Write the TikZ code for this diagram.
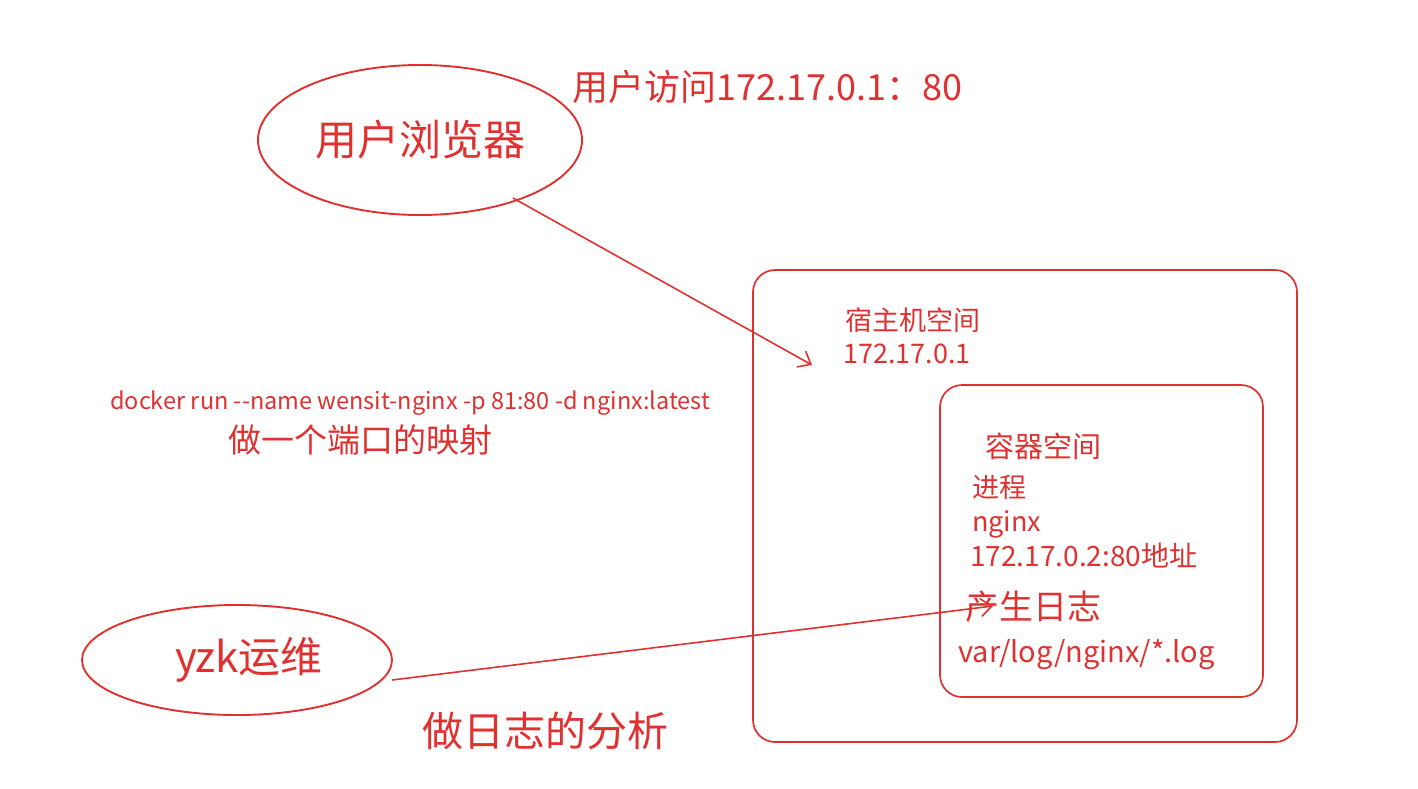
\documentclass[tikz,border=0pt]{standalone}
\usepackage{fontspec}
\newfontfamily\cjk{Noto Sans CJK SC}
\usetikzlibrary{arrows.meta,shapes.geometric}
\definecolor{exred}{HTML}{E03131}
\newcommand\fsz[1]{\cjk\fontsize{#1}{#1}\selectfont}
\tikzset{
  >={Straight Barb[length=11pt,width=18pt]},
  % former
  oval/.style={ellipse,draw=exred,line width=1.9pt,inner sep=0pt,text=exred},
  space/.style={draw=exred,line width=1.7pt,rounded corners=22pt,inner sep=0pt},
  % texter och pilar
  lbl/.style={anchor=west,inner sep=0pt,text=exred},
  link/.style={->,draw=exred,line width=1.6pt},
}

\begin{document}
\begin{tikzpicture}[x=1pt,y=-1pt]
  \useasboundingbox (0,0) rectangle (1418,788);
  \node[oval,minimum width=324pt,minimum height=150pt,font=\fsz{42}] (browser) at (420,140) {用户浏览器};
  \node[oval,minimum width=310pt,minimum height=110pt,font=\fsz{42}] (ops) at (237,660) {\hspace*{24pt}yzk运维};
  \node[space,minimum width=544pt,minimum height=472pt] (host) at (1025,506) {};
  \node[space,minimum width=323pt,minimum height=312pt] (ctr) at (1101.5,541) {};
  \node[lbl,font=\fsz{36}] (visit) at (572,87) {用户访问172.17.0.1：80};
  \node[lbl,font=\fsz{27}] (hostname) at (845,320) {宿主机空间};
  \node[lbl,font=\fsz{27}] (hostip) at (843,354) {172.17.0.1};
  \node[lbl,font=\fsz{29}] (ctrname) at (985,446) {容器空间};
  \node[lbl,font=\fsz{27}] (proc) at (972,487) {进程};
  \node[lbl,font=\fsz{27}] (nginx) at (972,524) {nginx};
  \node[lbl,font=\fsz{28}] (ctrip) at (970,556) {172.17.0.2:80地址};
  \node[lbl,font=\fsz{34}] (mklog) at (965,607) {产生日志};
  \node[lbl,font=\fsz{29}] (logpath) at (958,655) {var/log/nginx/*.log};
  \node[lbl,font=\fsz{23.5}] (cmd) at (110,403) {docker run --name wensit-nginx -p 81:80 -d nginx:latest};
  \node[lbl,font=\fsz{33}] (portmap) at (228,440) {做一个端口的映射};
  \node[lbl,font=\fsz{41}] (analyse) at (422,731) {做日志的分析};
  \coordinate (b-out) at (513,198);
  \coordinate (h-in) at (812,365);
  \coordinate (o-out) at (392,680);
  \coordinate (l-in) at (993,606);
  \draw[link] (b-out) -- (h-in);
  \draw[link] (o-out) -- (l-in);
\end{tikzpicture}
\end{document}
